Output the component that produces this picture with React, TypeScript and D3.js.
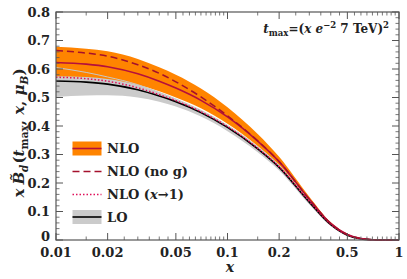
import React from 'react';
import * as d3 from 'd3';

// values
const xs = [0.01, 0.015, 0.02, 0.03, 0.04, 0.05, 0.07, 0.1, 0.15, 0.2, 0.3, 0.4, 0.5, 0.6, 0.7, 0.8, 1];
const lo = [0.558, 0.554, 0.547, 0.527, 0.505, 0.485, 0.447, 0.395, 0.32, 0.255, 0.133, 0.054, 0.017, 0.004, 0.001, 0, 0];
const loLow = [0.502, 0.507, 0.508, 0.5, 0.485, 0.468, 0.433, 0.382, 0.308, 0.244, 0.125, 0.049, 0.014, 0.003, 0, 0, 0];
const loHigh = [0.605, 0.588, 0.572, 0.545, 0.518, 0.495, 0.455, 0.402, 0.327, 0.262, 0.138, 0.057, 0.019, 0.005, 0.001, 0, 0];
const nlo = [0.623, 0.617, 0.608, 0.583, 0.557, 0.533, 0.49, 0.432, 0.347, 0.275, 0.143, 0.058, 0.019, 0.005, 0.001, 0, 0];
const nloLow = [0.575, 0.572, 0.565, 0.545, 0.522, 0.5, 0.462, 0.408, 0.33, 0.263, 0.137, 0.055, 0.018, 0.004, 0.001, 0, 0];
const nloHigh = [0.678, 0.671, 0.662, 0.635, 0.606, 0.58, 0.532, 0.466, 0.372, 0.292, 0.152, 0.062, 0.021, 0.006, 0.001, 0, 0];
const nloNoG = [0.665, 0.656, 0.645, 0.615, 0.585, 0.555, 0.502, 0.436, 0.348, 0.275, 0.143, 0.058, 0.019, 0.005, 0.001, 0, 0];
const nloX1 = [0.571, 0.566, 0.557, 0.534, 0.51, 0.489, 0.45, 0.398, 0.322, 0.257, 0.135, 0.055, 0.018, 0.004, 0.001, 0, 0];

const xMajor = [0.01, 0.02, 0.05, 0.1, 0.2, 0.5, 1];
const xMajorLabels = ['0.01', '0.02', '0.05', '0.1', '0.2', '0.5', '1'];
const xMinor = [0.015, 0.025, 0.03, 0.035, 0.04, 0.045, 0.055, 0.06, 0.065, 0.07, 0.075, 0.08, 0.085, 0.09, 0.095,
  0.15, 0.25, 0.3, 0.35, 0.4, 0.45, 0.55, 0.6, 0.65, 0.7, 0.75, 0.8, 0.85, 0.9, 0.95];
const yMajor = [0, 0.1, 0.2, 0.3, 0.4, 0.5, 0.6, 0.7, 0.8];
const yMajorLabels = ['0', '0.1', '0.2', '0.3', '0.4', '0.5', '0.6', '0.7', '0.8'];
const yMinor = d3.range(0, 41).map(i => i * 0.02).filter(v => Math.round(v * 50) % 5 !== 0);

const W = 407, H = 279;
const m = { left: 56, right: 8, top: 12, bottom: 39 };
const ORANGE = '#ff8400';
const RED = '#b5103c';
const DASH = '#a5102c';
const DOT = '#e0105a';
const GREY = '#cbcbcb';
const FRAME = '#555';
const serif = '"DejaVu Serif", serif';

export default function App() {
  const x = d3.scaleLog().domain([0.01, 1]).range([m.left, W - m.right]);
  const y = d3.scaleLinear().domain([0, 0.8]).range([H - m.bottom, m.top]);
  const idx = xs.map((_, i) => i);

  const band = (low: number[], high: number[]) =>
    d3.area<number>().x(i => x(xs[i])).y0(i => y(low[i])).y1(i => y(high[i])).curve(d3.curveMonotoneX)(idx) || '';
  const line = (v: number[]) =>
    d3.line<number>().x(i => x(xs[i])).y(i => y(v[i])).curve(d3.curveMonotoneX)(idx) || '';

  const [x0, x1] = x.range();
  const [yb, yt] = y.range();

  const legend = [
    { label: 'NLO', kind: 'nlo' },
    { label: 'NLO (no g)', kind: 'dash' },
    { label: 'NLO (x1)', kind: 'dot' },
    { label: 'LO', kind: 'lo' },
  ];
  const legendY = [148.5, 171.5, 194.5, 217];

  return (
    <svg width={W} height={H} style={{ position: 'absolute', left: 0, top: 0 }} fontFamily={serif}>
      <defs>
        <clipPath id="plot">
          <rect x={x0} y={yt} width={x1 - x0} height={yb - yt + 1} />
        </clipPath>
      </defs>
      <rect width={W} height={H} fill="#fff" />
      <g clipPath="url(#plot)">
        <path d={band(loLow, loHigh)} fill={GREY} />
        <path d={band(nloLow, nloHigh)} fill={ORANGE} />
        <path d={line(loHigh)} fill="none" stroke="#c8c8c8" strokeWidth={1} />
        <path d={line(lo)} fill="none" stroke="#000" strokeWidth={1.6} />
        <path d={line(nloX1)} fill="none" stroke={DOT} strokeWidth={1.5} strokeDasharray="1.5 2" />
        <path d={line(nlo)} fill="none" stroke={RED} strokeWidth={1.6} />
        <path d={line(nloNoG)} fill="none" stroke={DASH} strokeWidth={1.5} strokeDasharray="7 4" />
      </g>

      {/* frame */}
      <rect x={x0} y={yt} width={x1 - x0} height={yb - yt} fill="none" stroke={FRAME} strokeWidth={1.2} />
      {xMajor.map(v => (
        <g key={'xM' + v} stroke={FRAME} strokeWidth={1}>
          <line x1={x(v)} x2={x(v)} y1={yb} y2={yb - 7} />
          <line x1={x(v)} x2={x(v)} y1={yt} y2={yt + 7} />
        </g>
      ))}
      {xMinor.map(v => (
        <g key={'xm' + v} stroke={FRAME} strokeWidth={0.8}>
          <line x1={x(v)} x2={x(v)} y1={yb} y2={yb - 3.5} />
          <line x1={x(v)} x2={x(v)} y1={yt} y2={yt + 3.5} />
        </g>
      ))}
      {yMajor.map(v => (
        <g key={'yM' + v} stroke={FRAME} strokeWidth={1}>
          <line x1={x0} x2={x0 + 7} y1={y(v)} y2={y(v)} />
          <line x1={x1} x2={x1 - 7} y1={y(v)} y2={y(v)} />
        </g>
      ))}
      {yMinor.map(v => (
        <g key={'ym' + v} stroke={FRAME} strokeWidth={0.8}>
          <line x1={x0} x2={x0 + 3.5} y1={y(v)} y2={y(v)} />
          <line x1={x1} x2={x1 - 3.5} y1={y(v)} y2={y(v)} />
        </g>
      ))}

      {/* tick labels */}
      {xMajor.map((v, i) => (
        <text key={'xl' + v} x={x(v)} y={257} textAnchor="middle" fontSize={13} fontWeight="bold" fill="#222">
          {xMajorLabels[i]}
        </text>
      ))}
      {yMajor.map((v, i) => (
        <text key={'yl' + v} x={50} y={y(v) + (v === 0 ? 1 : 4.7)} textAnchor="end" fontSize={13} fontWeight="bold" fill="#222">
          {yMajorLabels[i]}
        </text>
      ))}

      {/* axis titles */}
      <text x={230} y={272} textAnchor="middle" fontSize={14} fontStyle="italic" fontWeight="bold" fill="#222">x</text>
      <text transform="translate(24,133) rotate(-90)" textAnchor="middle" fontSize={15} fontWeight="bold" fill="#222">
        <tspan fontStyle="italic">x</tspan>
        <tspan fontStyle="italic" dx={4}>B̃</tspan>
        <tspan fontStyle="italic" fontSize={10.5} dy={3.5}>d</tspan>
        <tspan dy={-3.5} dx={1}>(</tspan>
        <tspan fontStyle="italic">t</tspan>
        <tspan fontSize={10.5} dy={3.5}>max</tspan>
        <tspan dy={-3.5}>, </tspan>
        <tspan fontStyle="italic">x</tspan>
        <tspan>, </tspan>
        <tspan fontStyle="italic">μ</tspan>
        <tspan fontStyle="italic" fontSize={10.5} dy={3.5}>B</tspan>
        <tspan dy={-3.5}>)</tspan>
      </text>

      {/* annotation */}
      <text x={389} y={33} textAnchor="end" fontSize={12} fontWeight="bold" fill="#222">
        <tspan fontStyle="italic">t</tspan>
        <tspan fontSize={8.5} dy={2.5}>max</tspan>
        <tspan dy={-2.5}>=(</tspan>
        <tspan fontStyle="italic">x e</tspan>
        <tspan fontSize={8.5} dy={-5}>−2</tspan>
        <tspan dy={5}> 7 TeV)</tspan>
        <tspan fontSize={8.5} dy={-5}>2</tspan>
      </text>

      {/* legend */}
      {legend.map((d, i) => {
        const ly = legendY[i];
        return (
          <g key={d.label}>
            {d.kind === 'nlo' && <rect x={72.5} y={ly - 7} width={29} height={14} fill={ORANGE} />}
            {d.kind === 'lo' && <rect x={72.5} y={ly - 7} width={29} height={14} fill={GREY} />}
            <line x1={72.5} x2={101.5} y1={ly} y2={ly}
              stroke={d.kind === 'nlo' ? RED : d.kind === 'dash' ? DASH : d.kind === 'dot' ? DOT : '#000'}
              strokeWidth={1.6}
              strokeDasharray={d.kind === 'dash' ? '7 4' : d.kind === 'dot' ? '1.5 2' : undefined} />
            <text x={107} y={ly + 4.8} fontSize={13} fontWeight="bold" fill="#222">
              {d.kind === 'dot' ? (
                <>
                  NLO (<tspan fontStyle="italic">x</tspan>→1)
                </>
              ) : d.label}
            </text>
          </g>
        );
      })}
    </svg>
  );
}
